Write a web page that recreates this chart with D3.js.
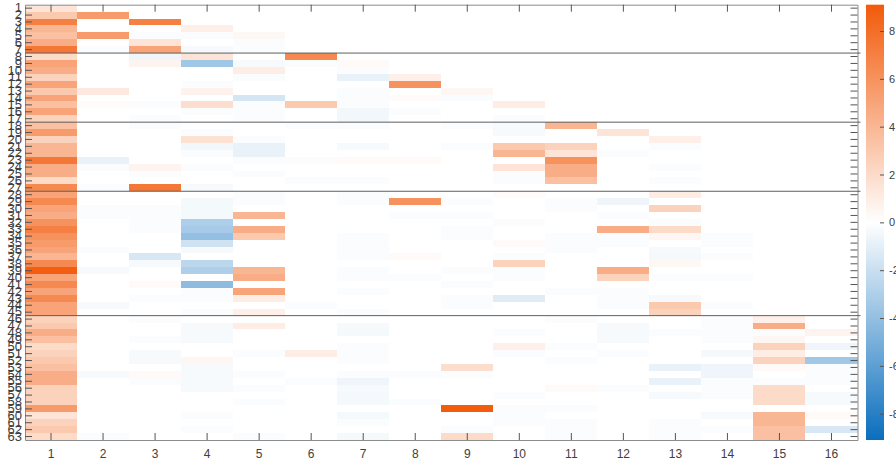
<!DOCTYPE html>
<html lang="en">
<head>
<meta charset="utf-8">
<title>Heatmap</title>
<script src="https://d3js.org/d3.v7.min.js"></script>
<style>
  body { margin: 0; background: #fff; }
  text { font-family: "Liberation Sans", Arial, sans-serif; }
</style>
</head>
<body>
<script>

// width and height
var w = 896;
var h = 466;

// labels
var rowLabels = d3.range(1, 64);
var colLabels = d3.range(1, 17);
var colorTicks = [-8, -6, -4, -2, 0, 2, 4, 6, 8];
var groupBreaks = [7, 17, 27, 45];   // separator after these rows
var colorLimit = 9.1;

// values, one array per column (rows 1..63)
var col1 = [1.5,3,7,4,3.5,4.5,7.5,2,5,4.5, 2.5,5,3,5,3.5,5,2.5,3.5,5.5,2.5,
            4,4,7.5,4.5,4.5,2,6.5,5,6.5,5, 4.5,6,7,6,5.5,5,4,6.5,8.8,5,
            6.5,5,6.5,5,5,2.5,3,4.5,3.5,2, 2.5,3,3.5,4.5,4.5,2.5,2.5,2.5,5.5,1.5,
            2.5,3,2];
var col2 = [0,5.5,0,0,5.5,0,-0.2,0,0,0, 0,0,1.2,0,0.2,0,0,0,0,0,
            0,0,-0.8,-0.2,0,0,-0.2,0,0,-0.2, -0.2,0,0,0,0,-0.2,0,0,-0.3,0,
            0,0,0,-0.3,0,0,0,0,0,0, 0,0,0,-0.3,0,0,0,0,0,0,
            0,0,-0.2];
var col3 = [0,0,7,0,-0.2,1.5,5,-0.6,0.6,0, 0,0,0,0,-0.2,0,-0.2,-0.2,0,0,
            0,0,0,0.6,-0.2,0,7.5,0,0,-0.2, -0.2,-0.2,-0.2,0,0,0,-1.5,-0.3,0,0,
            0.3,0,-0.2,0,0,-0.2,0,0,-0.2,0, -0.3,-0.3,0,0.3,-0.2,0,0,0,0,0,
            0,0,0];
var col4 = [0,0,0,0.8,-0.2,0,-0.3,1.5,-3.5,0, 0,-0.2,0.7,0,1.8,-0.2,0,0,-0.2,1.6,
            -0.5,-0.2,0,-0.2,0,0,-0.3,0,-0.4,-0.4, -0.4,-3,-3.3,-4,-1.8,-0.3,0,-2.5,-3,0,
            -4.2,-0.2,-0.2,0,-0.2,0,-0.3,-0.3,-0.3,0, 0,0.5,-0.3,-0.3,-0.3,-0.3,0,0,0,-0.2,
            0,-0.2,0];
var col5 = [0,0,0,0,0.4,-0.2,-0.2,0,-0.3,1, -0.2,0,0,-1.6,-0.2,-0.2,-0.2,0,0,-0.2,
            -0.8,-0.8,-0.2,0,-0.2,0,0,-0.2,-0.2,0, 4,0,4.5,3,0,0,0,0,4,4.5,
            0,5,1,0,0.8,0,1,0,0,0, -0.2,0,0,-0.2,0,-0.2,0,-0.2,0,0,
            0,0,-0.2];
var col6 = [0,0,0,0,0,0,0,6.5,-0.2,0, 0,0,0,0,3,0,0,-0.2,0,0,
            0,0,-0.2,0,0,-0.2,0,0,0,0, 0,0,0,0,0,0,0,0,0,0,
            0,0,0,-0.2,0,0,0,0,0,0, 1,0,0,0,-0.2,0,0,0,0,0,
            0,0,0];
var col7 = [0,0,0,0,0,0,0,0,0.3,-0.2, -0.8,0,-0.2,-0.2,-0.2,-0.5,-0.5,-0.2,0,0,
            -0.3,0,0.3,0,0,-0.2,0,-0.2,-0.2,0, 0,0,0,-0.2,-0.2,-0.2,-0.2,0,-0.2,-0.2,
            0,-0.2,0,0,-0.2,0,-0.3,-0.4,0,-0.2, -0.2,-0.2,0,-0.2,-0.6,-0.3,-0.4,-0.4,0,-0.4,
            -0.2,0,-0.4];
var col8 = [0,0,0,0,0,0,0,0,0,0, 0.8,6,0,0.2,0,-0.2,0,0,0,0,
            0,0,0.3,0,0,0,0,0,6,0, -0.2,0,0,0,0,0,0.3,0,0,-0.2,
            0,0,0,0,0,0,0,0,0,0, 0,0,0,-0.2,0,0,0,-0.2,0,0,
            0,0,0];
var col9 = [0,0,0,0,0,0,0,0,0,0, 0,0,0.5,-0.2,0,0,0,-0.2,0,0,
            -0.2,0,0,0,0,0,0,0,-0.2,0, -0.2,0,-0.2,-0.2,0,0,0,0,-0.2,0,
            -0.2,0,-0.2,-0.2,0,0,0,0,0,0, 0,0,1.8,-0.2,0,0,0,0,9,0,
            0,-0.2,2];
var col10 = [0,0,0,0,0,0,0,0,0,0, 0,0,0,0,1,0,-0.2,-0.3,-0.3,0,
             3,4,0,1.5,-0.2,-0.2,0,0.2,0,0, 0,-0.2,0,0,0.3,0,-0.2,2.5,-0.2,-0.2,
             0,0,-1.2,0,0,0,0,-0.2,0,0.8, -0.2,0,0,0,0,0,-0.2,0,-0.2,-0.2,
             -0.2,0,0];
var col11 = [0,0,0,0,0,0,0,0,0,0, 0,0,0,0,0,0,0,4,0,0,
             2.5,1.5,6,4.5,4.5,3.5,0,0,-0.2,-0.2, 0,0,0,-0.2,-0.2,-0.2,0,0,0,0,
             0,-0.2,0,0,0,-0.2,0,0,0,-0.2, 0,-0.2,0,0,0,0.3,0,0,-0.2,0,
             -0.2,-0.2,-0.2];
var col12 = [0,0,0,0,0,0,0,0,0,0, 0,0,0,0,0,0,0,0,1.5,0,
             0,-0.2,0,0,0,0,0,0,-0.6,0, -0.2,0,4.5,-0.2,-0.2,0,0,0,4.5,2.5,
             0,-0.2,-0.2,-0.2,0,0,-0.3,-0.3,-0.3,0, -0.2,0,0,0,0,-0.2,0,0,0,0,
             0,0,0];
var col13 = [0,0,0,0,0,0,0,0,0,0, 0,0,0,0,0,0,0,0,0,0.8,
             -0.2,0,0,-0.2,0,-0.2,0,1,0,2.5, 0,-0.2,2,0.5,0,-0.3,-0.4,0.4,0,-0.2,
             0,0,-0.3,3,2.5,0,0,-0.2,0,0, 0,0,-0.8,0,-0.8,0,-0.3,0,0,0,
             -0.2,-0.2,-0.2];
var col14 = [0,0,0,0,0,0,0,0,0,0, 0,0,0,0,0,0,0,0,0,0,
             0,0,0,0,0,0,0,0,0,0, 0,0,0,-0.2,-0.2,0,-0.2,0,0,-0.2,
             0,0,0,-0.2,0,-0.2,-0.2,-0.2,-0.2,0, -0.4,0,-0.6,-0.6,-0.2,-0.2,-0.2,0,0,-0.3,
             0,-0.2,0];
var col15 = [0,0,0,0,0,0,0,0,0,0, 0,0,0,0,0,0,0,0,0,0,
             0,0,0,0,0,0,0,0,0,0, 0,0,0,0,0,0,0,0,0,0,
             0,0,0,0,0,0.8,4.5,-0.2,0.5,2.5, 1,2.5,0.3,0,-0.2,2,2,2,0,4,
             4,3.5,3.5];
var col16 = [0,0,0,0,0,0,0,0,0,0, 0,0,0,0,0,0,0,0,0,0,
             0,0,0,0,0,0,0,0,0,0, 0,0,0,0,0,0,0,0,0,0,
             0,0,0,0,0,0,0,0.6,0,-0.6, 0,-3.5,-0.2,-0.2,-0.2,0,-0.3,-0.3,0,0.3,
             0,-1.5,0];

var columns = [col1, col2, col3, col4, col5, col6, col7, col8,
               col9, col10, col11, col12, col13, col14, col15, col16];

// flatten into cells
var cells = [];
columns.forEach(function(col, j) {
  col.forEach(function(v, i) {
    cells.push({ row: rowLabels[i], col: colLabels[j], value: v });
  });
});

// plot area
var plotL = 25, plotR = 857.5, plotT = 4.7, plotB = 440;

var xScale = d3.scaleBand()
  .domain(colLabels)
  .range([plotL, plotR]);

var yScale = d3.scaleBand()
  .domain(rowLabels)
  .range([plotT, plotB]);

var color = d3.scaleLinear()
  .domain([-colorLimit, 0, colorLimit])
  .range(["#0a6ebd", "#ffffff", "#f25a0a"])
  .clamp(true);

var svg = d3.select("body")
  .append("svg")
  .attr("width", w)
  .attr("height", h);

// cells
svg.append("g")
  .selectAll("rect")
  .data(cells)
  .enter()
  .append("rect")
  .attr("x", d => xScale(d.col))
  .attr("y", d => yScale(d.row))
  .attr("width", xScale.bandwidth())
  .attr("height", yScale.bandwidth())
  .attr("fill", d => color(d.value))
  .attr("shape-rendering", "crispEdges");

// axes
var tickLen = 7;
function styleAxis(g) {
  g.select(".domain").attr("stroke", "#8c8c8c");
  g.selectAll(".tick line").attr("stroke", "#555");
  g.selectAll(".tick text").attr("fill", "#404040");
}

svg.append("g")
  .attr("transform", "translate(" + plotL + ",0)")
  .call(d3.axisLeft(yScale).tickSize(-tickLen).tickPadding(3).tickSizeOuter(0))
  .call(styleAxis)
  .selectAll("text").attr("font-size", 13);

svg.append("g")
  .attr("transform", "translate(" + plotR + ",0)")
  .call(d3.axisRight(yScale).tickSize(-tickLen).tickSizeOuter(0).tickFormat(""))
  .call(styleAxis);

svg.append("g")
  .attr("transform", "translate(0," + plotB + ")")
  .call(d3.axisBottom(xScale).tickSize(-tickLen).tickPadding(9).tickSizeOuter(0))
  .call(styleAxis)
  .selectAll("text").attr("font-size", 12);

svg.append("g")
  .attr("transform", "translate(0," + plotT + ")")
  .call(d3.axisTop(xScale).tickSize(-tickLen).tickSizeOuter(0).tickFormat(""))
  .call(styleAxis);

// group separators
svg.append("g")
  .selectAll("line")
  .data(groupBreaks)
  .enter()
  .append("line")
  .attr("x1", plotL)
  .attr("x2", plotR + 3)
  .attr("y1", d => yScale(d) + yScale.bandwidth())
  .attr("y2", d => yScale(d) + yScale.bandwidth())
  .attr("stroke", "#5f5f5f")
  .attr("stroke-width", 1);

// colorbar
var cbX = 866, cbW = 18;
var cbScale = d3.scaleLinear()
  .domain([-colorLimit, colorLimit])
  .range([plotB, plotT]);

var grad = svg.append("defs").append("linearGradient")
  .attr("id", "cb")
  .attr("x1", 0).attr("y1", 1).attr("x2", 0).attr("y2", 0);
grad.selectAll("stop")
  .data([-colorLimit, 0, colorLimit])
  .enter()
  .append("stop")
  .attr("offset", d => (d + colorLimit) / (2 * colorLimit))
  .attr("stop-color", d => color(d));

svg.append("rect")
  .attr("x", cbX)
  .attr("y", plotT)
  .attr("width", cbW)
  .attr("height", plotB - plotT)
  .attr("fill", "url(#cb)");

svg.append("g")
  .attr("transform", "translate(" + (cbX + cbW) + ",0)")
  .call(d3.axisRight(cbScale).tickValues(colorTicks).tickSize(-4).tickPadding(5)
    .tickFormat(d => String(d)))
  .call(g => g.select(".domain").remove())
  .call(g => g.selectAll(".tick line").attr("stroke", "#555"))
  .call(g => g.selectAll(".tick text").attr("fill", "#404040").attr("font-size", 11));

    </script>
</body>
</html>
